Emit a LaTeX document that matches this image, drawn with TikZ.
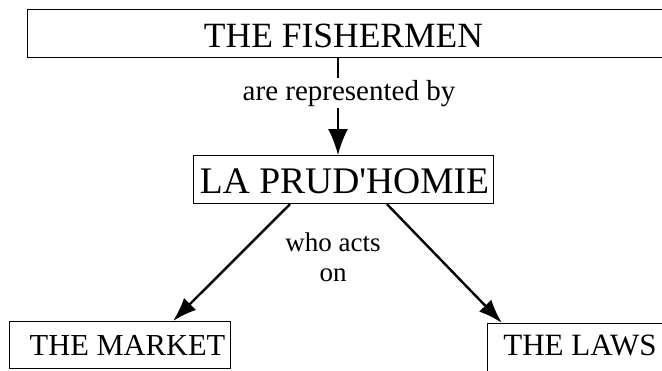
\documentclass[tikz,border=0pt]{standalone}
\usepackage{fontspec}
\setmainfont{Liberation Serif}[Ligatures=TeXOff]
\usetikzlibrary{arrows.meta,calc}
\begin{document}
\begin{tikzpicture}[x=1pt,y=-1pt,
  box/.style={draw=black, line width=1.2pt, rectangle, inner sep=0pt, anchor=north west},
  txt/.style={inner sep=2pt, anchor=base, text=black},
  conn/.style={draw=black, line width=1.8pt},
  arr/.style={draw=black, line width=2.4pt, -{Latex[length=24pt,width=17pt]}},
  varr/.style={draw=black, line width=1.8pt, -{Latex[length=26pt,width=20pt]}}]
\useasboundingbox (0,0) rectangle (662,370);
\clip (0,0) rectangle (662,370);
% boxes
\node[box, minimum width=700pt, minimum height=48pt] (fish) at (27,9) {};
\node[box, minimum width=300pt, minimum height=48pt] (prud) at (193,155) {};
\node[box, minimum width=221pt, minimum height=47pt] (market) at (9,321) {};
\node[box, minimum width=220pt, minimum height=60pt] (laws) at (487,323) {};
% box texts
\node[txt, font=\fontsize{35.5}{35.5}\selectfont] (fisht) at (343.5,47) {THE FISHERMEN};
\node[txt, font=\fontsize{37.5}{37.5}\selectfont] (prudt) at (344.5,193) {LA PRUD'HOMIE};
\node[txt, font=\fontsize{30.5}{30.5}\selectfont] (markett) at (127.5,355) {THE MARKET};
\node[txt, font=\fontsize{31}{31}\selectfont] (lawst) at (580,355) {THE LAWS};
% connector labels
\node[txt, font=\fontsize{29}{29}\selectfont] (rep) at (349,100) {are represented by};
\node[txt, font=\fontsize{27}{30}\selectfont, align=center, anchor=north, inner sep=0pt] (acts) at (333,233) {who acts\\on};
% connectors
\coordinate (vx) at ($(fish.south west)+(311,0)$);
\draw[conn] (vx) -- (vx |- rep.north);
\draw[varr] (vx |- rep.south) -- (vx |- prud.north);
\draw[arr] ($(prud.south west)+(97,0)$) -- ($(market.north west)+(164,0)$);
\draw[arr] ($(prud.south west)+(194,0)$) -- ($(laws.north west)+(15,0)$);
\end{tikzpicture}
\end{document}
